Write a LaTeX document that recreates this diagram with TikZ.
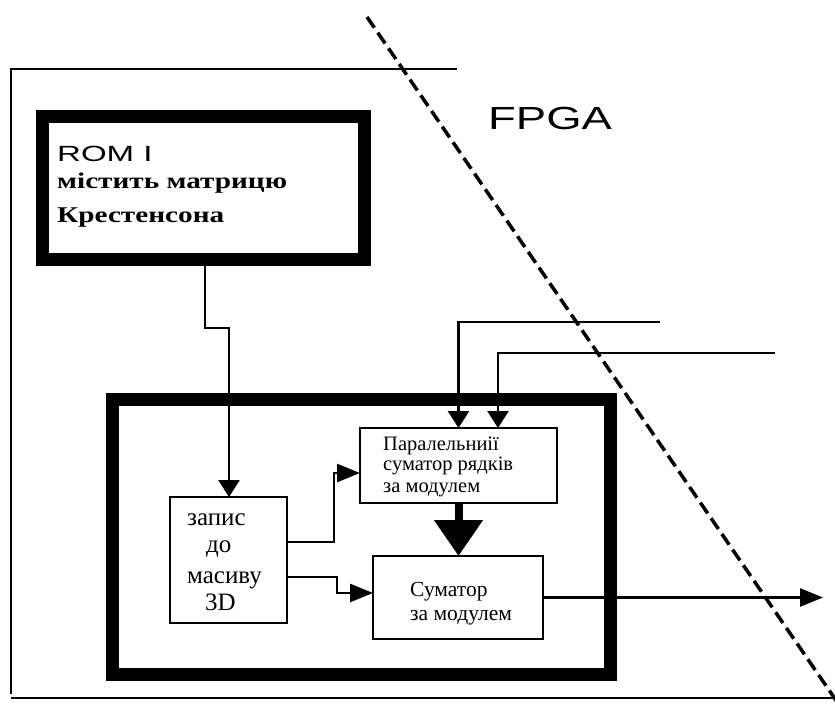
\documentclass[tikz,border=0pt]{standalone}
\usepackage{fontspec}
\setmainfont{Liberation Serif}
\newfontfamily\romfont[FakeStretch=1.5]{Liberation Sans}
\newfontfamily\fpgafont[FakeStretch=1.42]{Liberation Sans}
\newfontfamily\widebold[FakeStretch=1.3]{Liberation Serif}
\usetikzlibrary{arrows.meta}
\begin{document}
\begin{tikzpicture}[x=1pt,y=-1pt,
  thickbox/.style={draw, line width=13pt, inner sep=0pt, outer sep=0pt},
  thinbox/.style={draw, line width=2.5pt, inner sep=0pt, outer sep=0pt},
  txt/.style={anchor=base west, inner sep=0pt},
  wire/.style={line width=2.5pt},
  arrdown/.style={wire, -{Triangle[length=17pt,width=21pt]}},
  arrside/.style={wire, -{Triangle[length=23pt,width=18pt]}},
  frame/.style={line width=2pt},
  border/.style={line width=3.5pt, dash pattern=on 13pt off 6pt}]
\useasboundingbox (0,0) rectangle (835,717);

% outer board frame
\draw[frame] (10,69) -- (457,69);
\draw[frame] (11,69) -- (11,694);
\draw[frame] (11,698) -- (835,698);

% FPGA boundary
\begin{scope}
\clip (0,0) rectangle (835,717);
\draw[border] (367,17) -- (842,709);
\end{scope}
\node[txt] (fpga) at (488,129) {\fpgafont\fontsize{32}{36}\selectfont FPGA};

% ROM block
\node[thickbox, minimum width=322pt, minimum height=143pt] (rom) at (203,187.5) {};
\node[txt] (romname) at (57,161) {\romfont\fontsize{22}{24}\selectfont ROM I};
\node[txt] (romline1) at (57,188) {\widebold\bfseries\fontsize{22.5}{24}\selectfont містить матрицю};
\node[txt] (romline2) at (57,222) {\widebold\bfseries\fontsize{22.5}{24}\selectfont Крестенсона};

% processing unit
\node[thickbox, minimum width=498pt, minimum height=275pt] (unit) at (361,536.5) {};

\node[thinbox, minimum width=117pt, minimum height=126pt] (zapys) at (228.5,560) {};
\node[txt] (z1) at (187,525) {\fontsize{25}{26}\selectfont запис};
\node[txt] (z2) at (206,552) {\fontsize{25}{26}\selectfont до};
\node[txt] (z3) at (187,583) {\fontsize{25}{26}\selectfont масиву};
\node[txt] (z4) at (205,610) {\fontsize{25}{26}\selectfont 3D};

\node[thinbox, minimum width=197pt, minimum height=75pt] (paral) at (458.5,465.5) {};
\node[txt] (p1) at (383,450) {\fontsize{20.5}{22}\selectfont Паралельниії};
\node[txt] (p2) at (383,470) {\fontsize{20.5}{22}\selectfont суматор рядків};
\node[txt] (p3) at (383,492) {\fontsize{20.5}{22}\selectfont за модулем};

\node[thinbox, minimum width=170pt, minimum height=83pt] (sum) at (458,597.5) {};
\node[txt] (s1) at (410,596) {\fontsize{21.5}{23}\selectfont Суматор};
\node[txt] (s2) at (410,620) {\fontsize{21.5}{23}\selectfont за модулем};

% connectors
\coordinate (romkink) at (229,328);
\draw[arrdown] (rom.south -| 205,0) |- (romkink) -- (zapys.north -| romkink);

\draw[arrside] ([yshift=18pt]zapys.east) -- ++(47,0) |- ([yshift=-7.5pt]paral.west);
\draw[arrside] ([yshift=-17pt]zapys.east) -- ++(50,0) |- ([yshift=4.5pt]sum.west);

\draw[line width=8pt, -{Triangle[length=36pt,width=47pt]}] (paral.south) -- (sum.north -| paral.south);

\coordinate (in1) at (660,322);
\coordinate (in2) at (775,353);
\draw[arrdown] (in1) -| (paral.north);
\draw[arrdown] (in2) -| ([xshift=39.5pt]paral.north);

\coordinate (out) at (823,597.5);
\draw[arrside] (sum.east) -- (out);
\end{tikzpicture}
\end{document}
